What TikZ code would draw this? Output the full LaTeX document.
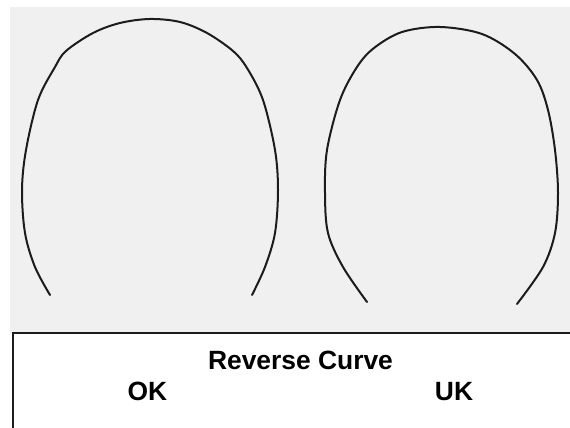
\documentclass[tikz,border=0pt]{standalone}
\usepackage{fontspec}
\setmainfont{Liberation Sans}
\usepackage{xcolor}
\usepackage{tikz}
\definecolor{panelgrey}{HTML}{F0F0F0}
\definecolor{inkgrey}{HTML}{1C1C1C}

\begin{document}
\begin{tikzpicture}[
    x=1pt, y=-1pt,
    every node/.style={font=\fontsize{26.4}{30}\selectfont\bfseries, inner sep=0pt, anchor=base},
    arch/.style={line width=2pt, line cap=round, color=inkgrey},
    frame/.style={line width=2pt, color=inkgrey}
]
\useasboundingbox (0,0) rectangle (570,428);
\fill[white] (0,0) rectangle (570,428);
\fill[panelgrey] (10,7) rectangle (570,333);

% OK arch
\draw[arch] plot[smooth, tension=0.55] coordinates {
    (50,295) (35,267) (25,233) (22,190) (26,150) (38,100) (55,67) (66,51)
    (93,33) (120,23) (150,19) (180,22) (207,33) (233,51) (247,68) (263,100)
    (275,150) (278,190) (275,233) (265,267) (252,295)};

% UK arch
\draw[arch] plot[smooth, tension=0.55] coordinates {
    (367,302) (343,267) (328,233) (325,193) (327,150) (340,100) (357,67) (374,48)
    (402,32) (440,27) (482,34) (515,54) (537,80) (548,110) (555,150)
    (558,193) (555,233) (543,267) (517,304)};

% caption frame
\draw[frame] (13,428) -- (13,333) -- (570,333);

\node (title) at (300.5,369) {Reverse Curve};
\node (ok) at (147.5,400) {OK};
\node (uk) at (454,400) {UK};
\end{tikzpicture}
\end{document}
